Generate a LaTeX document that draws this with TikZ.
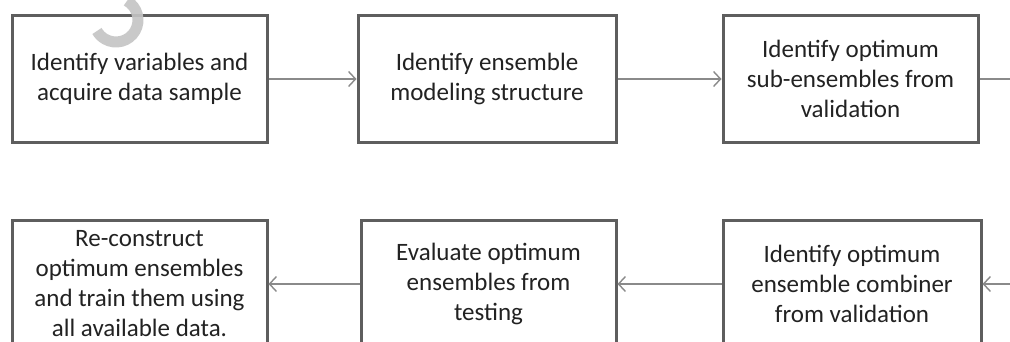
\documentclass[tikz,border=0pt]{standalone}
\usepackage{fontspec}
\setmainfont{Carlito}
\usetikzlibrary{arrows.meta}
\definecolor{boxline}{HTML}{5E5E5E}
\definecolor{arrowline}{HTML}{8A8A8A}
\definecolor{txt}{HTML}{222222}
\definecolor{wm}{HTML}{C4C4C4}
\tikzset{
  stepbox/.style={draw=boxline, line width=3pt, fill=white, rectangle,
    minimum width=255pt, minimum height=127pt, align=center, text=txt,
    font=\fontsize{25}{30}\selectfont, inner sep=0pt},
  flow/.style={draw=arrowline, line width=1.6pt,
    -{Straight Barb[length=7pt, width=15pt, line width=1.4pt]}},
  plainflow/.style={draw=arrowline, line width=1.6pt}
}
\begin{document}
\begin{tikzpicture}[x=1pt, y=-1pt]
\path[use as bounding box, clip] (0,0) rectangle (1010,342);
\fill[white] (0,0) rectangle (1010,342);
\node[stepbox] (b1) at (139.5,79) {Identify variables and\\acquire data sample};
\node[stepbox, minimum width=258pt] (b2) at (487,79) {Identify ensemble\\modeling structure};
\node[stepbox] (b3) at (850.5,79) {Identify optimum\\sub-ensembles from\\validation};
\node[stepbox] (b4) at (139.5,284) {Re-construct\\optimum ensembles\\and train them using\\all available data.};
\node[stepbox] (b5) at (488.5,284) {Evaluate optimum\\ensembles from\\testing};
\node[stepbox, minimum width=258pt] (b6) at (852,284) {Identify optimum\\ensemble combiner\\from validation};
\coordinate (r1) at (1012,79);
\coordinate (r2) at (1012,284);
\draw[flow] (b1.east) -- (b2.west);
\draw[flow] (b2.east) -- (b3.west);
\draw[plainflow] (b3.east) -- (r1);
\draw[flow] (r2) -- (b6.east);
\draw[flow] (b6.west) -- (b5.east);
\draw[flow] (b5.west) -- (b4.east);
% watermark fragment
\draw[wm, line width=11pt, opacity=0.9] (116,20) ++(-60:22) arc[start angle=-60, end angle=150, radius=22];
\end{tikzpicture}
\end{document}
